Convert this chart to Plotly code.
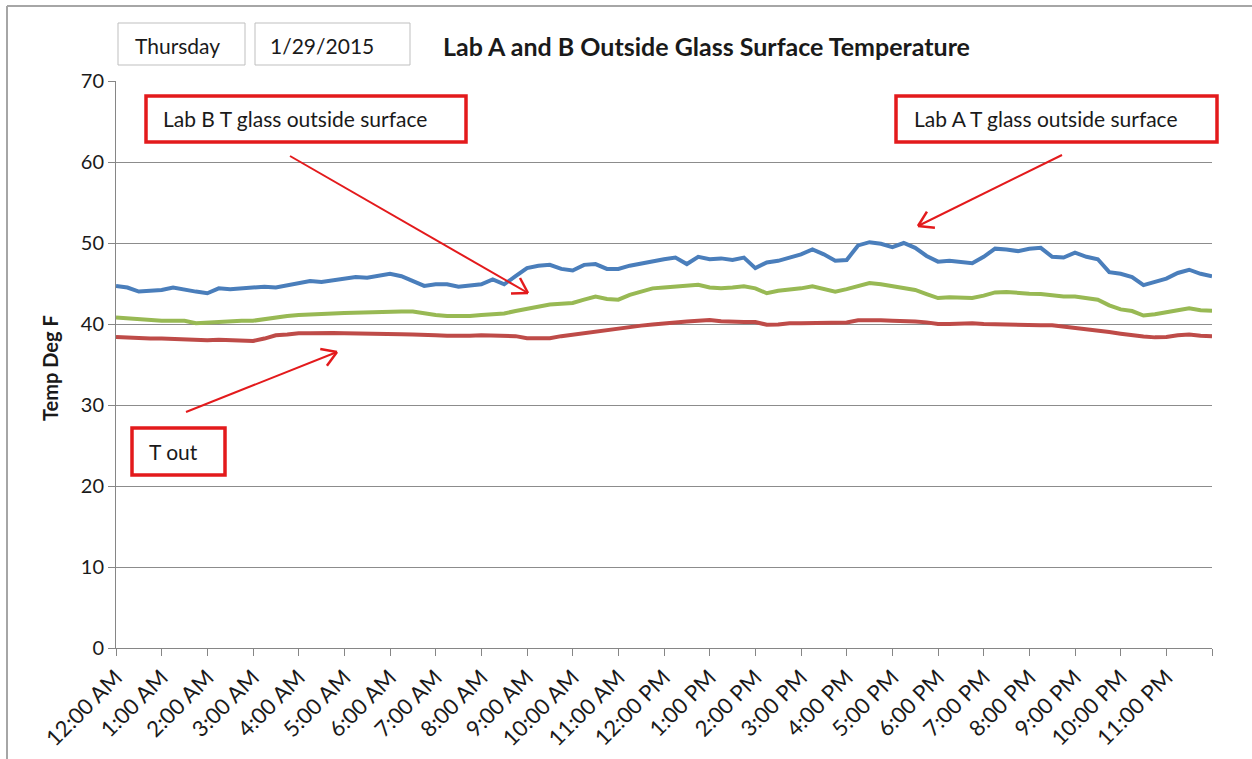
import math

import pandas as pd
import plotly.graph_objects as go

# 15-minute readings, 1/29/2015 00:00 -> 1/30/2015 00:00 (97 points)
times = pd.date_range("2015-01-29 00:00", "2015-01-30 00:00", freq="15min")

lab_a_glass = [
    44.7, 44.5, 44.0, 44.1, 44.2, 44.5, 44.2, 44.0, 43.8, 44.4, 44.3, 44.4,
    44.4, 44.6, 44.5, 44.8, 45.0, 45.3, 45.2, 45.4, 45.5, 45.8, 45.7, 45.9,
    46.2, 45.9, 45.3, 44.7, 44.9, 44.9, 44.6, 44.7, 44.9, 45.5, 44.9, 45.9,
    46.9, 47.2, 47.3, 46.8, 46.6, 47.3, 47.4, 46.8, 46.8, 47.2, 47.5, 47.8,
    48.0, 48.2, 47.4, 48.3, 48.0, 48.1, 47.9, 48.2, 46.9, 47.6, 47.8, 48.2,
    48.6, 49.2, 48.6, 47.8, 47.9, 49.7, 50.1, 49.9, 49.5, 50.0, 49.4, 48.4,
    47.7, 47.8, 47.6, 47.5, 48.3, 49.3, 49.2, 49.0, 49.3, 49.4, 48.3, 48.2,
    48.8, 48.3, 48.0, 46.4, 46.2, 45.8, 44.8, 45.2, 45.6, 46.3, 46.7, 46.2,
    45.9,
]

lab_b_glass = [
    40.8, 40.7, 40.5, 40.5, 40.4, 40.4, 40.4, 40.1, 40.2, 40.3, 40.4, 40.4,
    40.4, 40.6, 40.9, 41.0, 41.1, 41.2, 41.3, 41.3, 41.35, 41.4, 41.5, 41.5,
    41.5, 41.55, 41.55, 41.3, 41.1, 41.0, 40.95, 41.0, 41.1, 41.2, 41.3, 41.6,
    41.9, 42.2, 42.4, 42.5, 42.6, 43.0, 43.4, 43.1, 43.0, 43.6, 44.0, 44.4,
    44.5, 44.6, 44.7, 44.85, 44.5, 44.4, 44.5, 44.65, 44.4, 43.8, 44.1, 44.2,
    44.4, 44.65, 44.3, 44.0, 44.3, 44.7, 45.05, 44.9, 44.7, 44.5, 44.2, 43.7,
    43.2, 43.3, 43.2, 43.2, 43.5, 43.9, 43.95, 43.8, 43.75, 43.7, 43.5, 43.4,
    43.4, 43.2, 43.0, 42.3, 41.8, 41.6, 41.05, 41.2, 41.4, 41.7, 41.95, 41.7,
    41.65,
]

t_out = [
    38.4, 38.3, 38.25, 38.2, 38.2, 38.15, 38.1, 37.95, 38.0, 38.05, 38.0, 37.85,
    37.9, 38.2, 38.6, 38.7, 38.85, 38.85, 38.9, 38.9, 38.85, 38.85, 38.8, 38.8,
    38.75, 38.75, 38.7, 38.7, 38.6, 38.55, 38.5, 38.55, 38.6, 38.6, 38.6, 38.5,
    38.25, 38.2, 38.25, 38.5, 38.7, 38.9, 39.1, 39.25, 39.4, 39.6, 39.8, 39.95,
    40.1, 40.2, 40.3, 40.4, 40.5, 40.35, 40.25, 40.25, 40.25, 39.9, 39.95, 40.1,
    40.1, 40.1, 40.1, 40.1, 40.2, 40.45, 40.5, 40.45, 40.4, 40.4, 40.3, 40.2,
    40.0, 40.0, 40.1, 40.1, 40.0, 39.95, 39.9, 39.85, 39.85, 39.85, 39.85, 39.7,
    39.5, 39.3, 39.15, 39.0, 38.8, 38.6, 38.45, 38.35, 38.4, 38.6, 38.7, 38.55,
    38.5,
]

tick_times = pd.date_range("2015-01-29 00:00", "2015-01-30 00:00", freq="1h")
tick_labels = [
    "12:00 AM", "1:00 AM", "2:00 AM", "3:00 AM", "4:00 AM", "5:00 AM",
    "6:00 AM", "7:00 AM", "8:00 AM", "9:00 AM", "10:00 AM", "11:00 AM",
    "12:00 PM", "1:00 PM", "2:00 PM", "3:00 PM", "4:00 PM", "5:00 PM",
    "6:00 PM", "7:00 PM", "8:00 PM", "9:00 PM", "10:00 PM", "11:00 PM", "",
]

# pixel -> paper helpers (plot area is 116..1212 x 81..648)
def px(x):
    return (x - 116) / 1096

def py(y):
    return (648 - y) / 567

FONT = "Lato, Liberation Sans, sans-serif"
RED = "#E31A1C"
INK = "#1a1a1a"

def label(text, x, y, size, xanchor="left", bold=False, angle=0):
    if bold:
        text = f"<b>{text}</b>"
    return dict(text=text, xref="paper", yref="paper", x=px(x), y=py(y),
                xanchor=xanchor, yanchor="middle", showarrow=False, textangle=angle,
                font=dict(family=FONT, size=size, color=INK))

def seg(x0, y0, x1, y1, color, width):
    return dict(type="line", xref="paper", yref="paper",
                x0=px(x0), y0=py(y0), x1=px(x1), y1=py(y1),
                line=dict(color=color, width=width))

def arrow(tail, head, barb=17, spread=32):
    """Shaft plus an open V head, drawn in pixel space."""
    ang = math.atan2(tail[1] - head[1], tail[0] - head[0])
    out = [seg(tail[0], tail[1], head[0], head[1], RED, 2)]
    for s in (-1, 1):
        a = ang + s * math.radians(spread)
        out.append(seg(head[0], head[1], head[0] + barb * math.cos(a),
                       head[1] + barb * math.sin(a), RED, 2.5))
    return out

fig = go.Figure()
fig.add_trace(go.Scatter(x=times, y=lab_a_glass, mode="lines",
                         line=dict(color="#4A7EBB", width=4), name="Lab A T glass outside surface"))
fig.add_trace(go.Scatter(x=times, y=lab_b_glass, mode="lines",
                         line=dict(color="#98B954", width=4), name="Lab B T glass outside surface"))
fig.add_trace(go.Scatter(x=times, y=t_out, mode="lines",
                         line=dict(color="#BE4B48", width=4), name="T out"))

shapes = [
    # outer chart frame (top and left edges visible)
    seg(7, 6, 1252, 6, "#A6A6A6", 2),
    seg(7, 6, 7, 759, "#A6A6A6", 2),
    # day / date boxes
    dict(type="rect", xref="paper", yref="paper", x0=px(118), x1=px(245), y0=py(65), y1=py(23),
         line=dict(color="#BFBFBF", width=1)),
    dict(type="rect", xref="paper", yref="paper", x0=px(255), x1=px(410), y0=py(65), y1=py(23),
         line=dict(color="#BFBFBF", width=1)),
    # red label boxes
    dict(type="rect", xref="paper", yref="paper", x0=px(146), x1=px(466), y0=py(142), y1=py(96),
         line=dict(color=RED, width=3.5), fillcolor="white"),
    dict(type="rect", xref="paper", yref="paper", x0=px(896), x1=px(1217), y0=py(142), y1=py(96),
         line=dict(color=RED, width=3.5), fillcolor="white"),
    dict(type="rect", xref="paper", yref="paper", x0=px(132), x1=px(225), y0=py(475), y1=py(428),
         line=dict(color=RED, width=3.5), fillcolor="white"),
]
shapes += arrow((290, 156), (528, 293))
shapes += arrow((1062, 155), (918, 226))
shapes += arrow((186, 412), (337, 352))

annotations = [
    label("Thursday", 177, 45, 21, xanchor="center"),
    label("1/29/2015", 322, 45, 21, xanchor="center"),
    label("Lab A and B Outside Glass Surface Temperature", 441, 46, 25, bold=True),
    label("Lab B T glass outside surface", 161, 118, 21),
    label("Lab A T glass outside surface", 912, 118, 21),
    label("T out", 147, 451, 21),
    label("Temp Deg F", 50, 368, 20, xanchor="center", bold=True, angle=-90),
]

fig.update_layout(
    width=1252, height=759,
    margin=dict(l=116, r=40, t=81, b=111),
    paper_bgcolor="white", plot_bgcolor="white",
    showlegend=False,
    font=dict(family=FONT, color=INK),
    shapes=shapes,
    annotations=annotations,
    xaxis=dict(
        range=[times[0], times[-1]], automargin=False,
        tickmode="array", tickvals=list(tick_times), ticktext=tick_labels,
        tickangle=-45, tickfont=dict(size=22, family=FONT, color=INK),
        showgrid=False, zeroline=False,
        showline=True, linecolor="#868686", linewidth=1,
        ticks="outside", ticklen=7, tickcolor="#868686",
    ),
    yaxis=dict(
        range=[0, 70], dtick=10, automargin=False,
        tickfont=dict(size=20, family=FONT, color=INK),
        showgrid=True, gridcolor="#8C8C8C", gridwidth=1,
        zeroline=False, showline=True, linecolor="#868686", linewidth=1,
        ticks="outside", ticklen=7, tickcolor="#868686",
    ),
)

fig.write_html("out.html", config={"displayModeBar": False},
               post_script="document.body.style.margin = '0';")
